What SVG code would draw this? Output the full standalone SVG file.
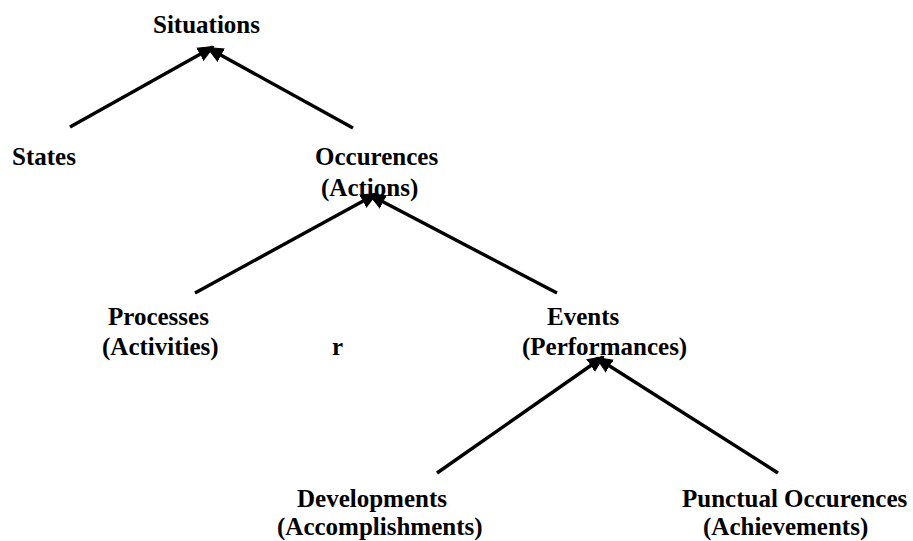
<svg xmlns="http://www.w3.org/2000/svg" width="913" height="541" viewBox="0 0 913 541">
  <style>
    .lbl { font-family: "Liberation Serif", "Times New Roman", serif; font-weight: bold; font-size: 25px; fill: #000; }
    .edge { stroke: #000; stroke-width: 3.4; fill: none; marker-end: url(#head); }
  </style>
  <defs>
    <!-- solid arrowhead shared by all hierarchy edges -->
    <marker id="head" markerUnits="userSpaceOnUse" markerWidth="18" markerHeight="16" refX="15" refY="8" orient="auto">
      <path d="M0,1 L16,8 L0,15 L1,8 Z" fill="#000" stroke="#000" stroke-width="1" stroke-linejoin="round"/>
    </marker>
  </defs>
  <rect width="913" height="541" fill="#fff"/>

  <g id="connectors">
    <line class="edge" x1="70" y1="127" x2="213" y2="47"/>
    <line class="edge" x1="353" y1="128" x2="208" y2="48"/>
    <line class="edge" x1="195" y1="293" x2="376" y2="194"/>
    <line class="edge" x1="557" y1="293" x2="370" y2="195"/>
    <line class="edge" x1="437" y1="473" x2="603" y2="357"/>
    <line class="edge" x1="778" y1="473" x2="597" y2="358"/>
  </g>

  <g id="situations"><text class="lbl" x="153" y="33">Situations</text></g>
  <g id="states"><text class="lbl" x="12" y="165">States</text></g>
  <g id="occurences">
    <text class="lbl" x="315" y="165">Occurences</text>
    <text class="lbl" x="321" y="196">(Actions)</text>
  </g>
  <g id="processes">
    <text class="lbl" x="108" y="325">Processes</text>
    <text class="lbl" x="102" y="355">(Activities)</text>
  </g>
  <g id="r"><text class="lbl" x="332" y="355">r</text></g>
  <g id="events">
    <text class="lbl" x="547" y="325">Events</text>
    <text class="lbl" x="522" y="355">(Performances)</text>
  </g>
  <g id="developments">
    <text class="lbl" x="297" y="507">Developments</text>
    <text class="lbl" x="277" y="535">(Accomplishments)</text>
  </g>
  <g id="punctual">
    <text class="lbl" x="682" y="507">Punctual Occurences</text>
    <text class="lbl" x="703" y="535">(Achievements)</text>
  </g>
</svg>
